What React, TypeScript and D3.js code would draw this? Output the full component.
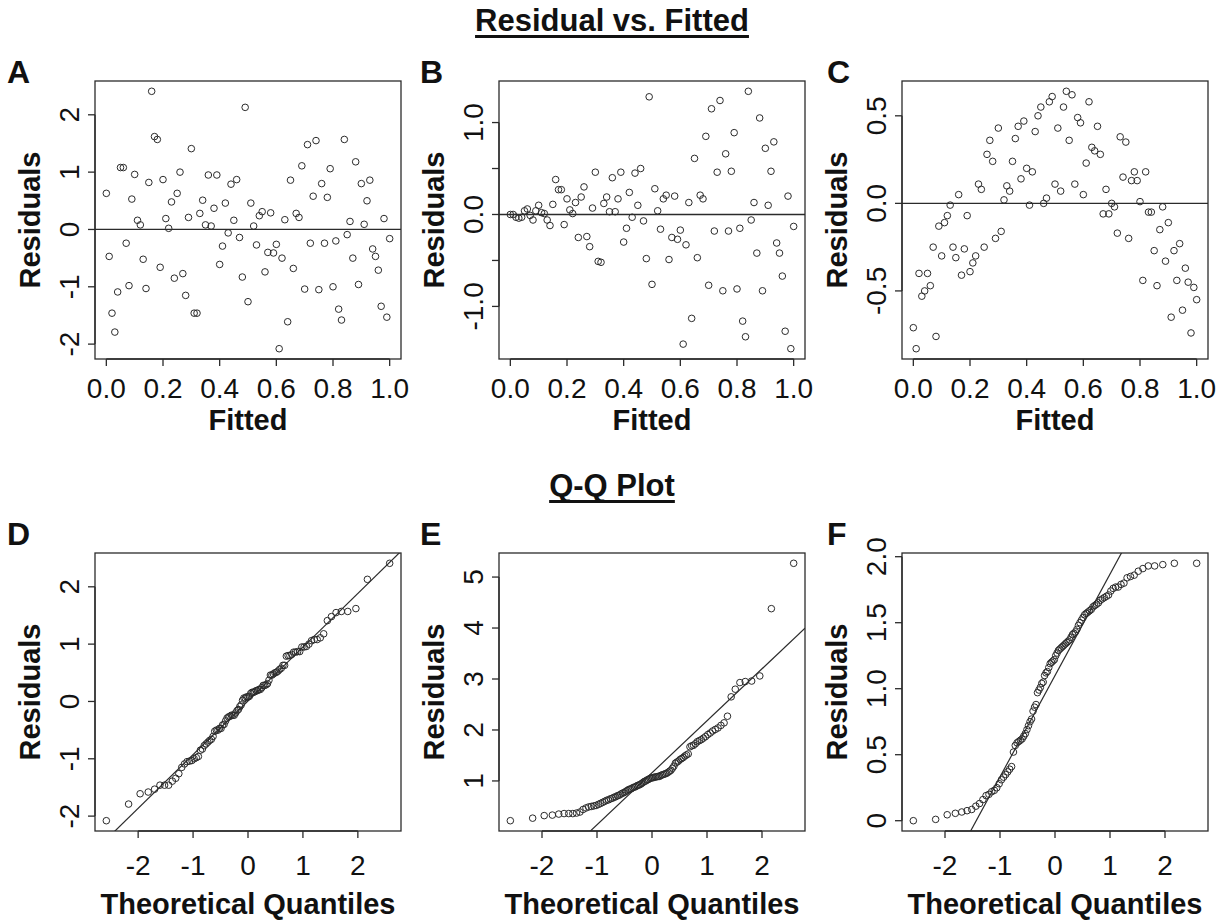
import React, { useEffect, useRef } from "react";
import * as d3 from "d3";

// Fitted values shared by the three residual panels
const fitted = [
  0.00, 0.01, 0.02, 0.03, 0.04, 0.05, 0.06, 0.07, 0.08, 0.09,
  0.10, 0.11, 0.12, 0.13, 0.14, 0.15, 0.16, 0.17, 0.18, 0.19,
  0.20, 0.21, 0.22, 0.23, 0.24, 0.25, 0.26, 0.27, 0.28, 0.29,
  0.30, 0.31, 0.32, 0.33, 0.34, 0.35, 0.36, 0.37, 0.38, 0.39,
  0.40, 0.41, 0.42, 0.43, 0.44, 0.45, 0.46, 0.47, 0.48, 0.49,
  0.50, 0.51, 0.52, 0.53, 0.54, 0.55, 0.56, 0.57, 0.58, 0.59,
  0.60, 0.61, 0.62, 0.63, 0.64, 0.65, 0.66, 0.67, 0.68, 0.69,
  0.70, 0.71, 0.72, 0.73, 0.74, 0.75, 0.76, 0.77, 0.78, 0.79,
  0.80, 0.81, 0.82, 0.83, 0.84, 0.85, 0.86, 0.87, 0.88, 0.89,
  0.90, 0.91, 0.92, 0.93, 0.94, 0.95, 0.96, 0.97, 0.98, 0.99, 1.00,
];

// Panel A: homoscedastic residuals
const residA = [
  0.63, -0.47, -1.46, -1.79, -1.09, 1.08, 1.08, -0.24, -0.98, 0.53,
  0.96, 0.16, 0.08, -0.52, -1.03, 0.82, 2.41, 1.62, 1.57, -0.66,
  0.87, 0.19, 0.02, 0.48, -0.85, 0.63, 1.00, -0.77, -1.15, 0.21,
  1.41, -1.46, -1.46, 0.28, 0.51, 0.08, 0.95, 0.06, 0.37, 0.95,
  -0.61, -0.29, 0.46, -0.06, 0.79, 0.16, 0.87, -0.14, -0.83, 2.13,
  -1.26, 0.46, 0.06, -0.27, 0.24, 0.31, -0.74, -0.40, 0.29, -0.41,
  -0.26, -2.08, -0.50, 0.17, -1.61, 0.86, -0.68, 0.28, 0.21, 1.11,
  -1.04, 1.48, -0.24, 0.58, 1.55, -1.05, 0.80, -0.24, 0.56, 1.06,
  -1.00, -0.20, -1.39, -1.58, 1.57, -0.09, 0.14, -0.50, 1.18, -0.96,
  0.80, 0.09, 0.50, 0.86, -0.34, -0.47, -0.71, -1.34, 0.19, -1.53, -0.16,
];

// Panel B: spread grows with the fitted value
const residB = [
  0.00, 0.00, -0.03, -0.04, -0.03, 0.04, 0.06, -0.01, -0.06, 0.04,
  0.10, 0.02, 0.01, -0.06, -0.12, 0.11, 0.38, 0.27, 0.27, -0.11,
  0.17, 0.05, 0.01, 0.13, -0.25, 0.19, 0.30, -0.24, -0.35, 0.07,
  0.46, -0.51, -0.52, 0.12, 0.19, 0.03, 0.40, 0.03, 0.17, 0.46,
  -0.30, -0.15, 0.24, -0.03, 0.45, 0.10, 0.50, -0.07, -0.48, 1.28,
  -0.76, 0.28, 0.04, -0.16, 0.17, 0.21, -0.49, -0.25, 0.20, -0.27,
  -0.17, -1.41, -0.33, 0.13, -1.13, 0.61, -0.47, 0.21, 0.17, 0.85,
  -0.77, 1.15, -0.18, 0.46, 1.24, -0.83, 0.66, -0.18, 0.47, 0.89,
  -0.81, -0.15, -1.16, -1.33, 1.34, -0.06, 0.13, -0.42, 1.05, -0.83,
  0.72, 0.10, 0.47, 0.79, -0.31, -0.42, -0.67, -1.27, 0.20, -1.46, -0.13,
];

// Panel C: curved pattern left by a missing quadratic term
const residC = [
  -0.71, -0.83, -0.40, -0.53, -0.50, -0.40, -0.47, -0.25, -0.76, -0.13,
  -0.30, -0.11, -0.07, -0.01, -0.25, -0.31, 0.05, -0.41, -0.26, -0.07,
  -0.39, -0.34, -0.30, 0.11, 0.08, -0.25, 0.28, 0.36, 0.24, -0.20,
  0.43, -0.16, 0.02, 0.10, 0.07, 0.24, 0.37, 0.44, 0.14, 0.47,
  0.20, -0.01, 0.18, 0.41, 0.50, 0.55, 0.00, 0.03, 0.58, 0.61,
  0.11, 0.43, 0.07, 0.55, 0.64, 0.36, 0.62, 0.11, 0.49, 0.46,
  0.05, 0.23, 0.58, 0.32, 0.30, 0.44, 0.28, -0.06, 0.08, -0.06,
  0.00, -0.02, -0.17, 0.38, 0.15, 0.35, -0.20, 0.13, 0.18, 0.13,
  0.01, -0.44, 0.18, -0.05, -0.05, -0.27, -0.47, -0.15, -0.02, -0.33,
  -0.11, -0.65, -0.27, -0.44, -0.23, -0.61, -0.37, -0.45, -0.74, -0.48, -0.55,
];

// Panel E: ordered residuals of a right-skewed sample
const sampleE = [
  0.22, 0.27, 0.32, 0.33, 0.35, 0.36, 0.36, 0.36, 0.37, 0.39,
  0.44, 0.47, 0.49, 0.50, 0.51, 0.52, 0.54, 0.56, 0.58, 0.60,
  0.62, 0.63, 0.65, 0.66, 0.68, 0.69, 0.71, 0.72, 0.74, 0.76,
  0.77, 0.79, 0.81, 0.83, 0.84, 0.85, 0.87, 0.88, 0.89, 0.91,
  0.92, 0.93, 0.95, 0.97, 0.99, 1.00, 1.02, 1.03, 1.05, 1.06,
  1.06, 1.07, 1.08, 1.08, 1.09, 1.09, 1.11, 1.12, 1.13, 1.14,
  1.15, 1.17, 1.19, 1.21, 1.25, 1.29, 1.35, 1.37, 1.39, 1.42,
  1.44, 1.46, 1.49, 1.51, 1.53, 1.67, 1.69, 1.70, 1.73, 1.77,
  1.79, 1.81, 1.84, 1.87, 1.91, 1.94, 1.98, 2.01, 2.04, 2.09,
  2.14, 2.27, 2.65, 2.80, 2.93, 2.95, 2.96, 3.06, 4.38, 5.27,
];

// Panel F: ordered residuals of a bounded, flat sample
const sampleF = [
  0.00, 0.01, 0.045, 0.056, 0.066, 0.076, 0.085, 0.11, 0.13, 0.16,
  0.19, 0.20, 0.22, 0.23, 0.25, 0.28, 0.31, 0.33, 0.35, 0.37,
  0.39, 0.41, 0.52, 0.57, 0.59, 0.60, 0.61, 0.62, 0.64, 0.66,
  0.69, 0.72, 0.75, 0.77, 0.83, 0.86, 0.88, 0.97, 0.99, 1.01,
  1.04, 1.05, 1.10, 1.12, 1.13, 1.16, 1.19, 1.20, 1.21, 1.22,
  1.25, 1.27, 1.29, 1.30, 1.31, 1.32, 1.33, 1.34, 1.35, 1.36,
  1.37, 1.39, 1.41, 1.42, 1.43, 1.45, 1.48, 1.50, 1.52, 1.54,
  1.56, 1.57, 1.58, 1.59, 1.60, 1.62, 1.63, 1.64, 1.65, 1.67,
  1.68, 1.69, 1.70, 1.71, 1.74, 1.76, 1.77, 1.77, 1.79, 1.80,
  1.84, 1.85, 1.86, 1.89, 1.91, 1.93, 1.93, 1.94, 1.95, 1.95,
];

// Reference lines for the Q-Q panels: [intercept, slope]
const qqLineD = [0.01, 0.937];
const qqLineE = [1.16, 1.02];
const qqLineF = [1.1, 0.768];

const fittedTicks = [0, 0.2, 0.4, 0.6, 0.8, 1.0];
const fittedTickLabels = ["0.0", "0.2", "0.4", "0.6", "0.8", "1.0"];
const quantileTicks = [-2, -1, 0, 1, 2];
const quantileTickLabels = ["-2", "-1", "0", "1", "2"];

const yTicksA = [-2, -1, 0, 1, 2];
const yLabelsA = ["-2", "-1", "0", "1", "2"];
const yTicksB = [-1, -0.5, 0, 0.5, 1];
const yLabelsB = ["-1.0", "", "0.0", "", "1.0"];
const yTicksC = [-0.5, 0, 0.5];
const yLabelsC = ["-0.5", "0.0", "0.5"];
const yTicksD = [-2, -1, 0, 1, 2];
const yLabelsD = ["-2", "-1", "0", "1", "2"];
const yTicksE = [1, 2, 3, 4, 5];
const yLabelsE = ["1", "2", "3", "4", "5"];
const yTicksF = [0, 0.5, 1, 1.5, 2];
const yLabelsF = ["0", "0.5", "1.0", "1.5", "2.0"];

// Inverse standard normal CDF (Acklam's rational approximation)
function qnorm(p: number): number {
  const a = [-3.969683028665376e1, 2.209460984245205e2, -2.759285104469687e2, 1.38357751867269e2, -3.066479806614716e1, 2.506628277459239];
  const b = [-5.447609879822406e1, 1.615858368580409e2, -1.556989798598866e2, 6.680131188771972e1, -1.328068155288572e1];
  const c = [-7.784894002430293e-3, -3.223964580411365e-1, -2.400758277161838, -2.549732539343734, 4.374664141464968, 2.938163982698783];
  const d = [7.784695709041462e-3, 3.224671290700398e-1, 2.445134137142996, 3.754408661907416];
  const plow = 0.02425;
  if (p < plow) {
    const q = Math.sqrt(-2 * Math.log(p));
    return (((((c[0] * q + c[1]) * q + c[2]) * q + c[3]) * q + c[4]) * q + c[5]) / ((((d[0] * q + d[1]) * q + d[2]) * q + d[3]) * q + 1);
  }
  if (p > 1 - plow) {
    const q = Math.sqrt(-2 * Math.log(1 - p));
    return -(((((c[0] * q + c[1]) * q + c[2]) * q + c[3]) * q + c[4]) * q + c[5]) / ((((d[0] * q + d[1]) * q + d[2]) * q + d[3]) * q + 1);
  }
  const q = p - 0.5;
  const r = q * q;
  return ((((((a[0] * r + a[1]) * r + a[2]) * r + a[3]) * r + a[4]) * r + a[5]) * q) / (((((b[0] * r + b[1]) * r + b[2]) * r + b[3]) * r + b[4]) * r + 1);
}

// Theoretical quantiles for an ordered sample (R's ppoints rule)
function theoretical(n: number): number[] {
  const a = n <= 10 ? 3 / 8 : 0.5;
  return d3.range(n).map((i) => qnorm((i + 1 - a) / (n + 1 - 2 * a)));
}

// R-style axis range: data extent padded by 4% on each side
function padded(vals: number[]): [number, number] {
  const [lo, hi] = d3.extent(vals) as [number, number];
  const pad = (hi - lo) * 0.04;
  return [lo - pad, hi + pad];
}

type Panel = {
  letter: string;
  col: number;
  row: number;
  xs: number[];
  ys: number[];
  xTicks: number[];
  xTickLabels: string[];
  yTicks: number[];
  yTickLabels: string[];
  xLabel: string;
  hline?: number;
  abline?: number[];
};

const FONT = "'Liberation Sans', Arial, Helvetica, sans-serif";
const INK = "#2b2b2b";

export default function App() {
  const ref = useRef<SVGSVGElement>(null);

  useEffect(() => {
    const svg = d3.select(ref.current);
    svg.selectAll("*").remove();

    const sortedD = [...residA].sort((p, q) => p - q);
    const panels: Panel[] = [
      { letter: "A", col: 0, row: 0, xs: fitted, ys: residA, xTicks: fittedTicks, xTickLabels: fittedTickLabels, yTicks: yTicksA, yTickLabels: yLabelsA, xLabel: "Fitted", hline: 0 },
      { letter: "B", col: 1, row: 0, xs: fitted, ys: residB, xTicks: fittedTicks, xTickLabels: fittedTickLabels, yTicks: yTicksB, yTickLabels: yLabelsB, xLabel: "Fitted", hline: 0 },
      { letter: "C", col: 2, row: 0, xs: fitted, ys: residC, xTicks: fittedTicks, xTickLabels: fittedTickLabels, yTicks: yTicksC, yTickLabels: yLabelsC, xLabel: "Fitted", hline: 0 },
      { letter: "D", col: 0, row: 1, xs: theoretical(sortedD.length), ys: sortedD, xTicks: quantileTicks, xTickLabels: quantileTickLabels, yTicks: yTicksD, yTickLabels: yLabelsD, xLabel: "Theoretical Quantiles", abline: qqLineD },
      { letter: "E", col: 1, row: 1, xs: theoretical(sampleE.length), ys: sampleE, xTicks: quantileTicks, xTickLabels: quantileTickLabels, yTicks: yTicksE, yTickLabels: yLabelsE, xLabel: "Theoretical Quantiles", abline: qqLineE },
      { letter: "F", col: 2, row: 1, xs: theoretical(sampleF.length), ys: sampleF, xTicks: quantileTicks, xTickLabels: quantileTickLabels, yTicks: yTicksF, yTickLabels: yLabelsF, xLabel: "Theoretical Quantiles", abline: qqLineF },
    ];

    const colLeft = [95, 499, 902];
    const letterX = [7, 420, 827];
    const rowTop = [81, 553];
    const W = 306;
    const H = 278;
    const tickLen = 7;
    const tickLabelGap = [39, 44];
    const xLabelGap = [71, 83];

    // Section headings
    const headings = [
      { text: "Residual vs. Fitted", y: 31 },
      { text: "Q-Q Plot", y: 496 },
    ];
    headings.forEach((h) => {
      const t = svg
        .append("text")
        .attr("x", 612)
        .attr("y", h.y)
        .attr("text-anchor", "middle")
        .attr("font-family", FONT)
        .attr("font-weight", "bold")
        .attr("font-size", 31)
        .attr("fill", "#111")
        .text(h.text);
      const bb = (t.node() as SVGTextElement).getBBox();
      svg.append("rect").attr("x", bb.x).attr("y", h.y + 4).attr("width", bb.width).attr("height", 3).attr("fill", "#111");
    });

    panels.forEach((p, idx) => {
      const x0 = colLeft[p.col];
      const y0 = rowTop[p.row];
      const x = d3.scaleLinear().domain(padded(p.xs)).range([x0, x0 + W]);
      const y = d3.scaleLinear().domain(padded(p.ys)).range([y0 + H, y0]);
      const g = svg.append("g");

      const clipId = `clip-${idx}`;
      svg.append("clipPath").attr("id", clipId).append("rect").attr("x", x0).attr("y", y0).attr("width", W).attr("height", H);

      // plot frame
      g.append("rect").attr("x", x0).attr("y", y0).attr("width", W).attr("height", H).attr("fill", "none").attr("stroke", INK).attr("stroke-width", 1.3);

      // reference lines
      if (p.hline !== undefined) {
        g.append("line").attr("x1", x0).attr("x2", x0 + W).attr("y1", y(p.hline)).attr("y2", y(p.hline)).attr("stroke", INK).attr("stroke-width", 1.3);
      }
      if (p.abline) {
        const [b0, b1] = p.abline;
        const [dx0, dx1] = x.domain();
        g.append("line")
          .attr("clip-path", `url(#${clipId})`)
          .attr("x1", x(dx0)).attr("y1", y(b0 + b1 * dx0))
          .attr("x2", x(dx1)).attr("y2", y(b0 + b1 * dx1))
          .attr("stroke", INK).attr("stroke-width", 1.2);
      }

      // points
      g.append("g")
        .selectAll("circle")
        .data(p.xs.map((v, i) => [v, p.ys[i]]))
        .join("circle")
        .attr("cx", (dd) => x(dd[0]))
        .attr("cy", (dd) => y(dd[1]))
        .attr("r", 3.3)
        .attr("fill", "none")
        .attr("stroke", INK)
        .attr("stroke-width", 1);

      // x axis
      const bottom = y0 + H;
      g.append("line").attr("x1", x(p.xTicks[0])).attr("x2", x(p.xTicks[p.xTicks.length - 1])).attr("y1", bottom).attr("y2", bottom).attr("stroke", INK).attr("stroke-width", 1.3);
      p.xTicks.forEach((t, i) => {
        g.append("line").attr("x1", x(t)).attr("x2", x(t)).attr("y1", bottom).attr("y2", bottom + tickLen).attr("stroke", INK).attr("stroke-width", 1.3);
        g.append("text").attr("x", x(t)).attr("y", bottom + tickLabelGap[p.row]).attr("text-anchor", "middle").attr("font-family", FONT).attr("font-size", 28).attr("fill", "#111").text(p.xTickLabels[i]);
      });

      // y axis
      g.append("line").attr("x1", x0).attr("x2", x0).attr("y1", y(p.yTicks[0])).attr("y2", y(p.yTicks[p.yTicks.length - 1])).attr("stroke", INK).attr("stroke-width", 1.3);
      p.yTicks.forEach((t, i) => {
        g.append("line").attr("x1", x0).attr("x2", x0 - tickLen).attr("y1", y(t)).attr("y2", y(t)).attr("stroke", INK).attr("stroke-width", 1.3);
        if (p.yTickLabels[i]) {
          const lx = x0 - 16;
          g.append("text").attr("transform", `translate(${lx},${y(t)}) rotate(-90)`).attr("text-anchor", "middle").attr("font-family", FONT).attr("font-size", 28).attr("fill", "#111").text(p.yTickLabels[i]);
        }
      });

      // axis titles
      g.append("text").attr("x", x0 + W / 2).attr("y", bottom + xLabelGap[p.row]).attr("text-anchor", "middle").attr("font-family", FONT).attr("font-weight", "bold").attr("font-size", 29).attr("fill", "#111").text(p.xLabel);
      g.append("text").attr("transform", `translate(${x0 - 55},${y0 + H / 2}) rotate(-90)`).attr("text-anchor", "middle").attr("font-family", FONT).attr("font-weight", "bold").attr("font-size", 29).attr("fill", "#111").text("Residuals");

      // panel letter
      g.append("text").attr("x", letterX[p.col]).attr("y", p.row === 0 ? 83 : 545).attr("font-family", FONT).attr("font-weight", "bold").attr("font-size", 32).attr("fill", "#111").text(p.letter);
    });
  }, []);

  return (
    <div style={{ position: "absolute", left: 0, top: 0, background: "#fff" }}>
      <svg ref={ref} width={1224} height={924} style={{ display: "block", background: "#fff" }} />
    </div>
  );
}
